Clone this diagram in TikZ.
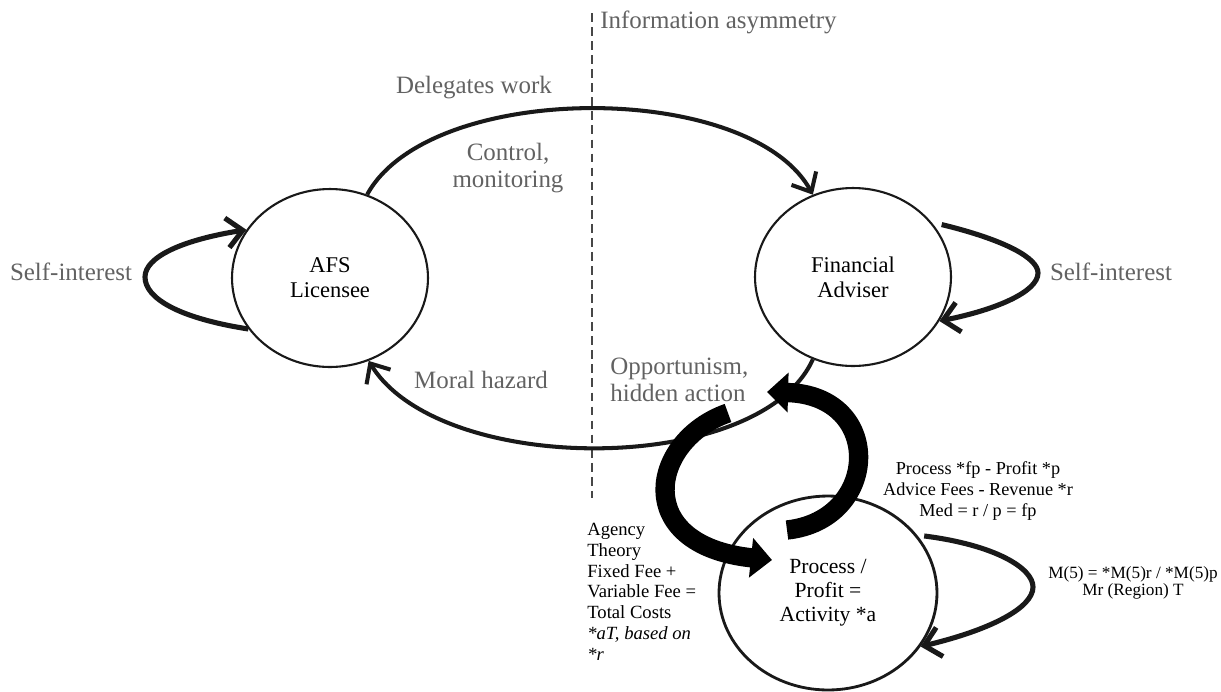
\documentclass[tikz,border=0pt]{standalone}
\usepackage{fontspec}
\setmainfont{Liberation Serif}
\usepackage{xcolor}
\usetikzlibrary{shapes.geometric,arrows.meta}

\definecolor{labelgray}{RGB}{98,98,98}
\definecolor{linedark}{RGB}{25,25,25}

\tikzset{
  agent/.style={ellipse, draw=linedark, line width=1.2pt, inner sep=0pt, align=center,
    minimum width=3.92cm, minimum height=3.56cm, font=\fontsize{12.8}{14.2}\selectfont},
  graylabel/.style={text=labelgray, inner sep=0pt, font=\fontsize{14.2}{15.3}\selectfont},
  note/.style={inner sep=0pt, font=\fontsize{10.4}{11.9}\selectfont},
  relation/.style={draw=linedark, line width=2.3pt,
    -{Straight Barb[length=9pt,width=16pt]}},
  selfloop/.style={draw=linedark, line width=2.9pt,
    -{Straight Barb[length=9pt,width=17pt]}},
  bigarrow/.style={draw=black, line width=11pt,
    -{Triangle[width=22pt,length=12pt]}},
  divide/.style={draw=black!72, line width=1.6pt, dash pattern=on 5pt off 3pt}
}

\begin{document}
\begin{tikzpicture}[x=0.02cm, y=-0.02cm]

% ------------------------
% Frame
% ------------------------
\useasboundingbox (0,0) rectangle (1221,691);

% ------------------------
% Agents
% ------------------------
\node[agent] (afs) at (330,278) {AFS\\Licensee};
\node[agent] (fa) at (853,277) {Financial\\Adviser};
\node[agent, line width=1.6pt, minimum width=4.36cm, minimum height=3.88cm,
  font=\fontsize{12.3}{13.6}\selectfont] (proc) at (828,593) {Process /\\Profit =\\Activity *a};

% ------------------------
% Information asymmetry divide
% ------------------------
\draw[divide] (592,13) -- (592,498);
\node[graylabel, anchor=west] (infoLabel) at (600,22) {Information asymmetry};

% ------------------------
% Principal - agent relations
% ------------------------
\draw[relation] (afs.66) .. controls (430,80) and (750,80) .. (fa.116);
\draw[relation] (fa.244) .. controls (760,477) and (440,477) .. (afs.295);

\node[graylabel] (delegLabel) at (474,88) {Delegates work};
\node[graylabel, align=center] (controlLabel) at (508,168) {Control,\\monitoring};
\node[graylabel] (moralLabel) at (481,380) {Moral hazard};
\node[graylabel, align=left, anchor=west] (opportLabel) at (610,380) {Opportunism,\\hidden action};

% ------------------------
% Self-interest loops
% ------------------------
\draw[selfloop] (afs.212) .. controls (178,318) and (145,298) .. (145,277)
  .. controls (145,257) and (182,240) .. (afs.150);
\node[graylabel] (selfLeft) at (71,272) {Self-interest};

\draw[selfloop, shorten <=6pt] (fa.35) .. controls (1005,240) and (1038,258) .. (1038,273)
  .. controls (1038,292) and (995,310) .. (fa.333);
\node[graylabel] (selfRight) at (1111,272) {Self-interest};

\draw[selfloop, shorten <=4pt] (proc.33) .. controls (995,545) and (1033,568) .. (1033,587)
  .. controls (1033,608) and (990,630) .. (proc.330);

% ------------------------
% Process cycle (block arrows)
% ------------------------
\coordinate (cycleTop) at (728,413);
\coordinate (cycleIn) at (772,560);
\coordinate (cycleOut) at (787,530);
\coordinate (cycleBack) at (767,392);
\draw[bigarrow] (cycleTop) .. controls (650,440) and (630,545) .. (cycleIn);
\draw[bigarrow] (cycleOut) .. controls (880,520) and (885,395) .. (cycleBack);

% ------------------------
% Notes
% ------------------------
\node[note, align=center] (feeLabel) at (978,491)
  {Process *fp - Profit *p\\Advice Fees - Revenue *r\\Med = r / p = fp};
\node[note, align=center, font=\fontsize{9.8}{9.8}\selectfont] (regionLabel) at (1133,583)
  {M(5) = *M(5)r / *M(5)p\\Mr (Region) T};
\node[note, align=left, anchor=north west, font=\fontsize{10.6}{11.8}\selectfont] (agencyLabel) at (587,523)
  {Agency\\Theory\\Fixed Fee +\\Variable Fee =\\Total Costs\\\textit{*aT, based on}\\\textit{*r}};

\end{tikzpicture}
\end{document}
